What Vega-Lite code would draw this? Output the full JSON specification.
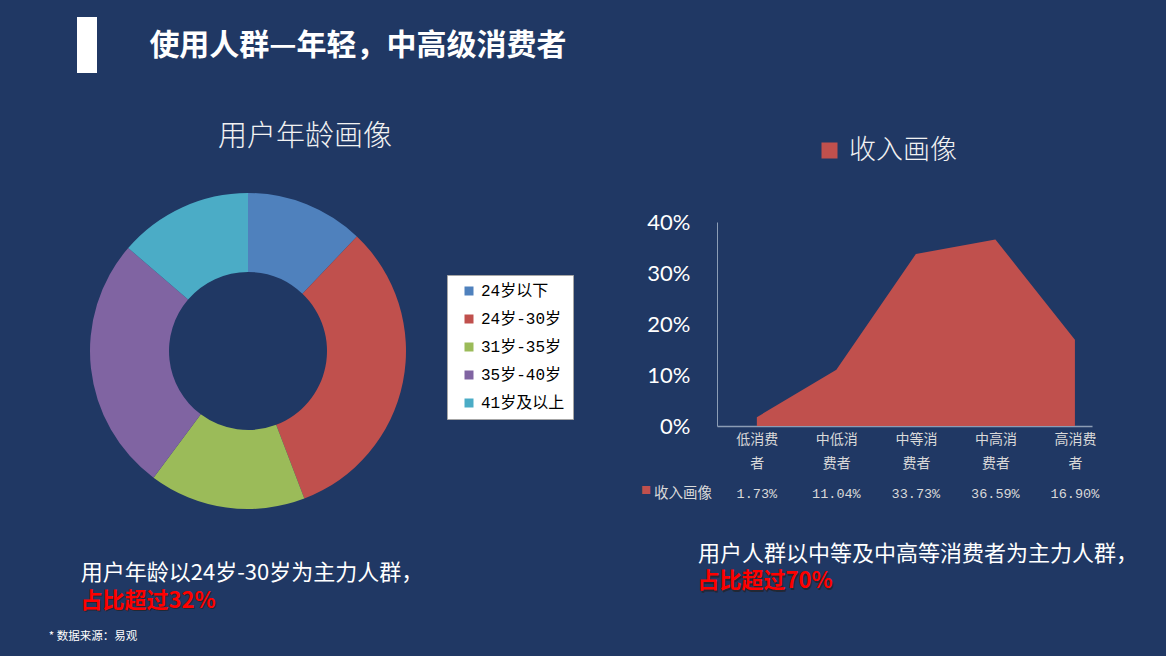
{
  "$schema": "https://vega.github.io/schema/vega-lite/v6.json",
  "usermeta": {"embedOptions": {"actions": false}},
  "background": "#203864",
  "padding": 0,
  "autosize": {"type": "pad"},
  "spacing": 0,
  "config": {"view": {"stroke": null}, "concat": {"spacing": 0}},
  "data": {"values": [{}]},
  "datasets": {
    "age": [
      {"group": "24岁以下", "share": 12.1, "idx": 1},
      {"group": "24岁-30岁", "share": 32.1, "idx": 2},
      {"group": "31岁-35岁", "share": 16.0, "idx": 3},
      {"group": "35岁-40岁", "share": 26.1, "idx": 4},
      {"group": "41岁及以上", "share": 13.7, "idx": 5}
    ],
    "income": [
      {"series": "收入画像", "cat": "低消费者", "share": 0.0173},
      {"series": "收入画像", "cat": "中低消费者", "share": 0.1104},
      {"series": "收入画像", "cat": "中等消费者", "share": 0.3373},
      {"series": "收入画像", "cat": "中高消费者", "share": 0.3659},
      {"series": "收入画像", "cat": "高消费者", "share": 0.169}
    ]
  },
  "resolve": {"scale": {"color": "independent"}, "legend": {"color": "independent"}},
  "hconcat": [
    {
      "spacing": 0,
      "vconcat": [
        {
          "spacing": 0,
          "hconcat": [
            {"width": 77, "height": 92, "mark": "text"},
            {
              "spacing": 0,
              "bounds": "flush",
              "vconcat": [
                {"width": 20, "height": 17, "mark": "text"},
                {"width": 20, "height": 56, "view": {"fill": "#ffffff"}, "mark": "text"},
                {"width": 20, "height": 19, "mark": "text"}
              ]
            },
            {"width": 50, "height": 92, "mark": "text"},
            {
              "width": 422, "height": 92,
              "data": {"values": [{"t": "使用人群—年轻，中高级消费者"}]},
              "mark": {"type": "text", "font": "Noto Sans CJK SC", "fontSize": 30, "fontWeight": "bold", "color": "#ffffff"},
              "encoding": {"text": {"field": "t"}}
            }
          ]
        },
        {
          "width": 620, "height": 90,
          "data": {"values": [{"t": "用户年龄画像"}]},
          "mark": {"type": "text", "font": "Noto Sans CJK SC", "fontSize": 29, "fontWeight": 300, "color": "#f2f2f2", "dx": -5},
          "encoding": {"text": {"field": "t"}}
        },
        {"width": 620, "height": 8, "mark": "text"},
        {
          "spacing": 0,
          "hconcat": [
            {"width": 90, "height": 316, "mark": "text"},
            {
              "width": 316, "height": 316,
              "data": {"name": "age"},
              "mark": {"type": "arc", "innerRadius": 79, "outerRadius": 158},
              "encoding": {
                "theta": {"field": "share", "type": "quantitative", "stack": true},
                "order": {"field": "idx", "type": "quantitative"},
                "color": {
                  "field": "group", "type": "nominal",
                  "scale": {
                    "domain": ["24岁以下", "24岁-30岁", "31岁-35岁", "35岁-40岁", "41岁及以上"],
                    "range": ["#4F81BD", "#C0504D", "#9BBB59", "#8064A2", "#4BACC6"]
                  },
                  "legend": {
                    "title": null, "orient": "none", "legendX": 447, "legendY": 275,
                    "fillColor": "#ffffff", "strokeColor": "#a6a6a6", "padding": 8,
                    "symbolType": "square", "symbolSize": 81, "symbolStrokeWidth": 0, "symbolOffset": 6,
                    "labelFont": "Liberation Mono, Noto Sans CJK SC", "labelFontSize": 16, "labelColor": "#000000",
                    "labelOffset": 4, "rowPadding": 12, "labelLimit": 200
                  }
                }
              }
            }
          ]
        },
        {"width": 620, "height": 50, "mark": "text"},
        {
          "spacing": 0,
          "hconcat": [
            {"width": 80, "height": 28, "mark": "text"},
            {
              "width": 342, "height": 28,
              "data": {"values": [{"t": "用户年龄以24岁-30岁为主力人群，"}]},
              "mark": {"type": "text", "font": "Noto Sans CJK SC", "fontSize": 22, "color": "#ffffff"},
              "encoding": {"text": {"field": "t"}}
            }
          ]
        },
        {
          "spacing": 0,
          "hconcat": [
            {"width": 80, "height": 27, "mark": "text"},
            {
              "width": 134, "height": 27,
              "data": {"values": [{"t": "占比超过32%"}]},
              "encoding": {"text": {"field": "t"}},
              "layer": [
                {"mark": {"type": "text", "font": "Noto Sans CJK SC", "fontSize": 22, "fontWeight": "bold", "color": "#222222", "opacity": 0.7, "dx": 1.5, "dy": 1.5}},
                {"mark": {"type": "text", "font": "Noto Sans CJK SC", "fontSize": 22, "fontWeight": "bold", "color": "#ff0000"}}
              ]
            }
          ]
        },
        {
          "spacing": 0,
          "hconcat": [
            {"width": 47, "height": 45, "mark": "text"},
            {
              "width": 92, "height": 45,
              "data": {"values": [{"t": "* 数据来源：易观"}]},
              "mark": {"type": "text", "font": "Noto Sans CJK SC", "fontSize": 11.5, "color": "#ffffff"},
              "encoding": {"text": {"field": "t"}}
            }
          ]
        }
      ]
    },
    {
      "spacing": 0,
      "vconcat": [
        {"width": 546, "height": 211, "mark": "text"},
        {
          "spacing": 0,
          "hconcat": [
            {"width": 26, "height": 204, "mark": "text"},
            {
              "width": 375, "height": 204,
              "data": {"name": "income"},
              "mark": {"type": "area", "interpolate": "linear"},
              "encoding": {
                "x": {
                  "field": "cat", "type": "nominal", "sort": null,
                  "scale": {"type": "point", "padding": 0.358, "align": 0.7},
                  "axis": {
                    "title": null, "labelAngle": 0, "ticks": false, "domainColor": "#8C9DB5", "domainWidth": 1.5,
                    "labelColor": "#d9d9d9", "labelFont": "Noto Sans CJK SC", "labelFontSize": 14,
                    "labelLineHeight": 24, "labelPadding": 6,
                    "labelExpr": "[slice(datum.label, 0, 3), slice(datum.label, 3)]"
                  }
                },
                "y": {
                  "field": "share", "type": "quantitative", "stack": null,
                  "scale": {"domain": [0, 0.4], "nice": false},
                  "axis": {
                    "title": null, "values": [0, 0.1, 0.2, 0.3, 0.4], "format": "%", "grid": false, "ticks": false,
                    "domainColor": "#8C9DB5", "labelColor": "#ffffff", "labelFont": "Lato", "labelFontSize": 22, "labelPadding": 27
                  }
                },
                "color": {
                  "field": "series", "type": "nominal",
                  "scale": {"domain": ["收入画像"], "range": ["#C0504D"]},
                  "legend": {
                    "title": null, "orient": "none", "legendX": 196, "legendY": 137, "padding": 0,
                    "symbolType": "square", "symbolSize": 256, "symbolStrokeWidth": 0,
                    "labelFont": "Noto Sans CJK SC", "labelFontSize": 27, "labelFontWeight": 300, "labelColor": "#f2f2f2", "labelOffset": 6
                  }
                }
              }
            }
          ]
        },
        {"width": 546, "height": 7, "mark": "text"},
        {
          "spacing": 0,
          "hconcat": [
            {"width": 21, "height": 24, "mark": "text"},
            {
              "width": 76, "height": 24,
              "layer": [
                {"mark": {"type": "text", "text": "收入画像", "font": "Noto Sans CJK SC", "fontSize": 14.5, "color": "#d9d9d9", "dx": 4}},
                {"mark": {"type": "text", "text": "■", "font": "Noto Sans CJK SC", "fontSize": 10, "color": "#C0504D", "dx": -33, "dy": -3}}
              ]
            },
            {
              "width": 375, "height": 24,
              "data": {"name": "income"},
              "mark": {"type": "text", "font": "Liberation Mono", "fontSize": 13.5, "color": "#d9d9d9"},
              "encoding": {
                "x": {"field": "cat", "type": "nominal", "sort": null, "scale": {"type": "point", "padding": 0.358, "align": 0.7}, "axis": null},
                "text": {"field": "share", "type": "quantitative", "format": ".2%"}
              }
            }
          ]
        },
        {"width": 546, "height": 34, "mark": "text"},
        {
          "spacing": 0,
          "hconcat": [
            {"width": 77, "height": 28, "mark": "text"},
            {
              "width": 442, "height": 28,
              "data": {"values": [{"t": "用户人群以中等及中高等消费者为主力人群，"}]},
              "mark": {"type": "text", "font": "Noto Sans CJK SC", "fontSize": 22, "color": "#ffffff"},
              "encoding": {"text": {"field": "t"}}
            }
          ]
        },
        {
          "spacing": 0,
          "hconcat": [
            {"width": 77, "height": 26, "mark": "text"},
            {
              "width": 132, "height": 26,
              "data": {"values": [{"t": "占比超过70%"}]},
              "encoding": {"text": {"field": "t"}},
              "layer": [
                {"mark": {"type": "text", "font": "Noto Sans CJK SC", "fontSize": 22, "fontWeight": "bold", "color": "#222222", "opacity": 0.7, "dx": 1.5, "dy": 1.5}},
                {"mark": {"type": "text", "font": "Noto Sans CJK SC", "fontSize": 22, "fontWeight": "bold", "color": "#ff0000"}}
              ]
            }
          ]
        },
        {"width": 546, "height": 64, "mark": "text"}
      ]
    }
  ]
}
